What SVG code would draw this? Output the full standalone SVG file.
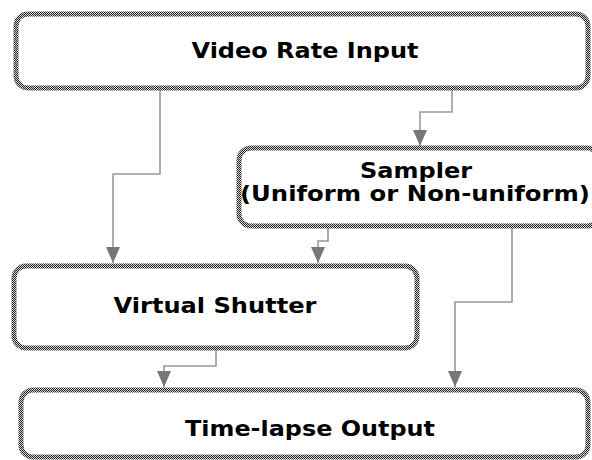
<svg xmlns="http://www.w3.org/2000/svg" width="592" height="460" viewBox="0 0 592 460">
<defs>
<pattern id="dither" width="2" height="2" patternUnits="userSpaceOnUse">
<rect width="2" height="2" fill="#d8d8d8"/>
<rect x="0" y="0" width="1" height="1" fill="#222"/>
<rect x="1" y="1" width="1" height="1" fill="#222"/>
</pattern>
<marker id="arr" markerWidth="16" markerHeight="14" refX="16" refY="7" orient="auto" markerUnits="userSpaceOnUse" viewBox="0 0 16 14">
<path d="M0,0 L16,7 L0,14 Z" fill="#777"/>
</marker>
</defs>
<style>
.box{fill:#fff;stroke:url(#dither);stroke-width:5}
.lbl{font-family:"DejaVu Sans",Verdana,sans-serif;font-weight:bold;font-size:21px;fill:#000;text-anchor:middle}
.con{fill:none;stroke:#999;stroke-width:1.6}
</style>
<rect width="592" height="460" fill="#fff"/>
<g id="connectors">
<polyline class="con" points="160,89 160,174 113,174 113,263" marker-end="url(#arr)"/>
<polyline class="con" points="452,89 452,112 420,112 420,146" marker-end="url(#arr)"/>
<polyline class="con" points="328,227 328,241 318,241 318,263" marker-end="url(#arr)"/>
<polyline class="con" points="512,227 512,302 455,302 455,387" marker-end="url(#arr)"/>
<polyline class="con" points="216,349 216,366 164,366 164,387" marker-end="url(#arr)"/>
</g>
<g id="video-rate-input">
<rect class="box" x="16" y="14" width="572" height="74" rx="12"/>
<text class="lbl" x="305" y="58" textLength="227" lengthAdjust="spacingAndGlyphs">Video Rate Input</text>
</g>
<g id="sampler">
<rect class="box" x="239" y="148" width="360" height="78" rx="12"/>
<text class="lbl" x="416" y="178" textLength="112" lengthAdjust="spacingAndGlyphs">Sampler</text>
<text class="lbl" x="415" y="201" textLength="350" lengthAdjust="spacingAndGlyphs">(Uniform or Non-uniform)</text>
</g>
<g id="virtual-shutter">
<rect class="box" x="14" y="266" width="403" height="82" rx="12"/>
<text class="lbl" x="215" y="313" textLength="203" lengthAdjust="spacingAndGlyphs">Virtual Shutter</text>
</g>
<g id="time-lapse-output">
<rect class="box" x="21" y="390" width="567" height="67" rx="12"/>
<text class="lbl" x="310" y="436" textLength="250" lengthAdjust="spacingAndGlyphs">Time-lapse Output</text>
</g>
</svg>
